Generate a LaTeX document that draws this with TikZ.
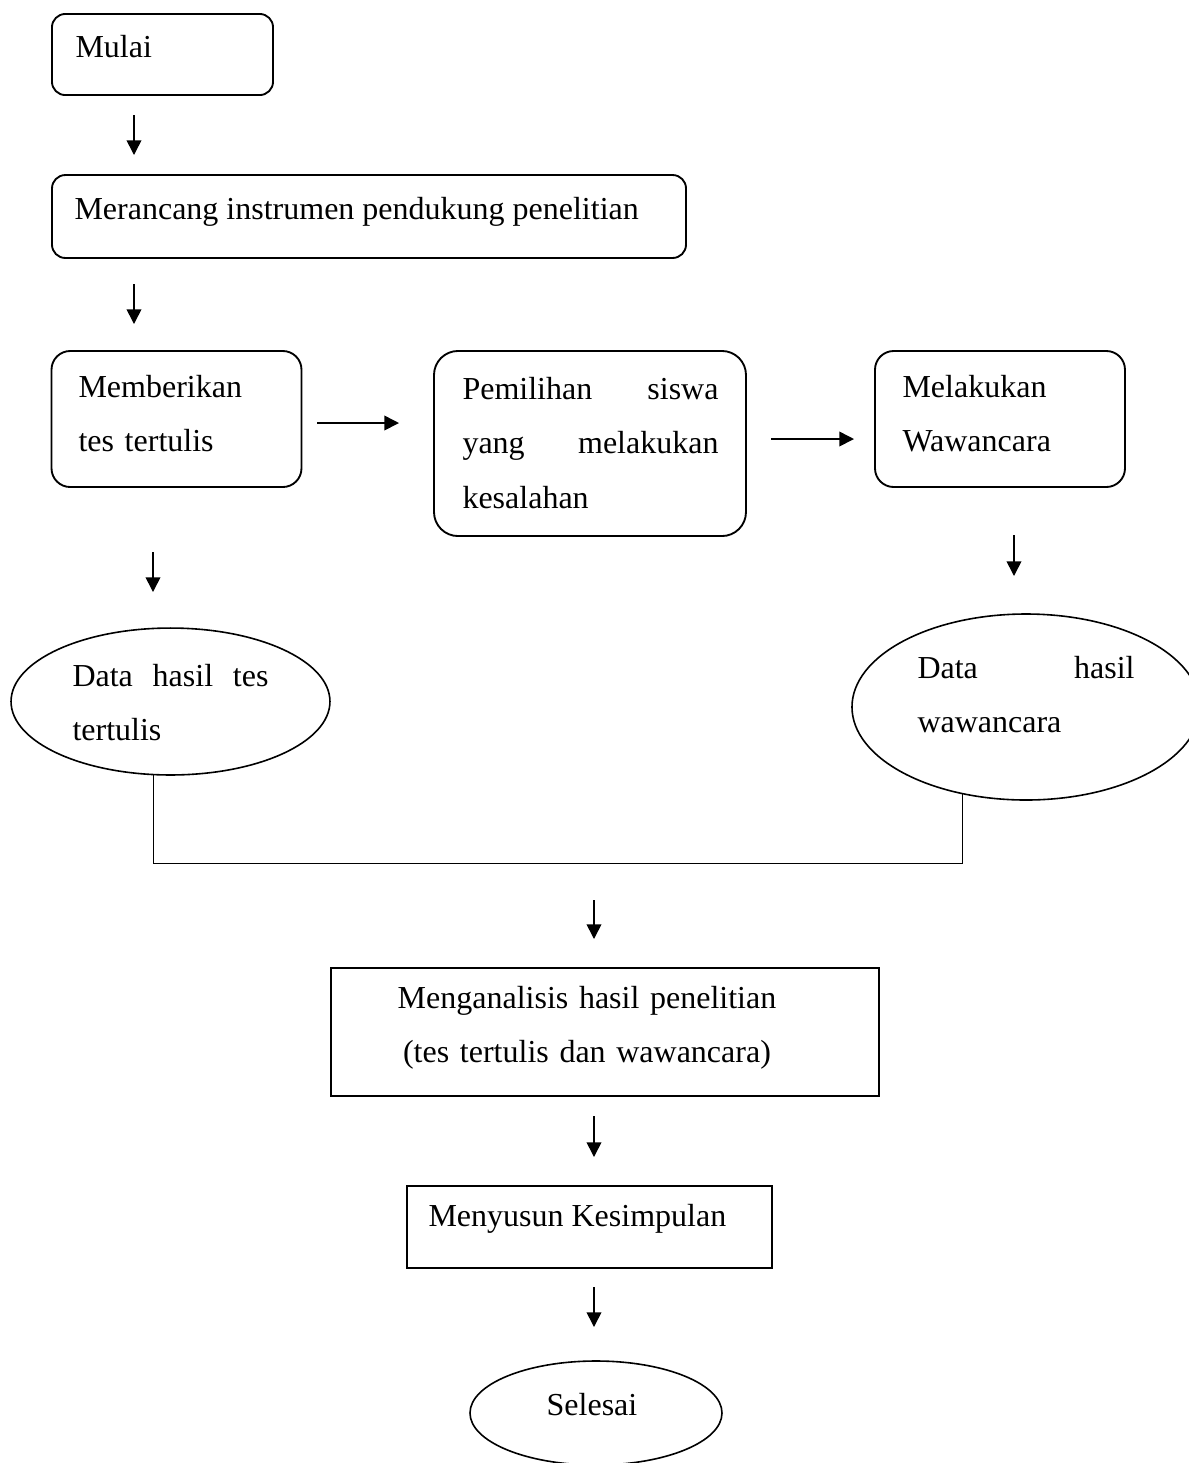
\documentclass[tikz,border=0pt]{standalone}
\usepackage{fontspec}
\setmainfont{Liberation Serif}
\usetikzlibrary{shapes.geometric,arrows.meta}

\begin{document}
\begin{tikzpicture}[x=0.375pt,y=-0.375pt,
    every node/.style={font=\fontsize{12}{20.5}\selectfont},
    box/.style={draw,line width=0.7pt,rounded corners=#1,inner sep=0pt},
    box/.default=5pt,
    sqbox/.style={draw,line width=0.7pt,inner sep=0pt},
    oval/.style={draw,ellipse,line width=0.6pt,inner sep=0pt},
    txt/.style={inner sep=0pt,anchor=base west},
    arr/.style={-{Triangle[length=5.5pt,width=5.5pt]},line width=0.6pt}]
    \useasboundingbox (0,0) rectangle (1188,1463);%
    % boxes and their texts
    \node[box,minimum width=82.9pt,minimum height=30.4pt] at (162.5,54.5) (mulai) {};%
    \node[txt] at (75,57) (mulaitxt) {Mulai};%
    \node[box,minimum width=237.75pt,minimum height=31.1pt] at (369,216.5) (rancang) {};%
    \node[txt] at (74,219) (rancangtxt) {Merancang instrumen pendukung penelitian};%
    \node[box=7pt,minimum width=93.75pt,minimum height=51pt] at (176.5,419) (tes) {};%
    \node[txt,text width=90pt,align=left] at (78,397) (testxt) {Memberikan\\tes tertulis};%
    \node[box=9pt,minimum width=117pt,minimum height=69.4pt] at (590,443.5) (pilih) {};%
    \node[txt,text width=96pt,align=left] at (462,399) (pilihtxt) {Pemilihan\hfill siswa\\yang\hfill melakukan\\kesalahan};%
    \node[box=7pt,minimum width=93.75pt,minimum height=51pt] at (1000,419) (wawancara) {};%
    \node[txt,text width=90pt,align=left] at (902,397) (wawancaratxt) {Melakukan\\Wawancara};%
    \node[oval,minimum width=119.6pt,minimum height=55.1pt] at (170.5,701.5) (datates) {};%
    \node[txt,text width=73.5pt,align=left] at (72,686) (datatestxt) {Data\hfill hasil\hfill tes\\tertulis};%
    \node[oval,minimum width=130.5pt,minimum height=69.75pt] at (1026,707) (datawaw) {};%
    \node[txt,text width=81.4pt,align=left] at (917,678) (datawawtxt) {Data\hfill hasil\\wawancara};%
    \node[sqbox,minimum width=205.5pt,minimum height=48pt] at (605,1032) (analisis) {};%
    \node[inner sep=0pt,anchor=base,text width=160pt,align=center] at (587,1008) (analisistxt) {Menganalisis hasil penelitian\\(tes tertulis dan wawancara)};%
    \node[sqbox,minimum width=136.9pt,minimum height=30.75pt] at (589.5,1227) (simpul) {};%
    \node[txt] at (428,1226) (simpultxt) {Menyusun Kesimpulan};%
    \node[oval,minimum width=94.5pt,minimum height=39pt] at (596,1413) (selesai) {};%
    \node[inner sep=0pt,anchor=base] at (592,1415) (selesaitxt) {Selesai};%
    % free standing arrows
    \foreach \n/\x/\ya/\yb in {1/134/115/155, 2/134/284/324, 3/153/552/592, 4/1014/535/576, 5/594/900/939, 6/594/1116/1157, 7/594/1287/1327} {%
      \coordinate (s\n) at (\x,\ya);%
      \coordinate (e\n) at (\x,\yb);%
      \draw[arr] (s\n) -- (e\n);%
    };%
    \coordinate (hs1) at (317,423);%
    \coordinate (he1) at (399,423);%
    \coordinate (hs2) at (771,439);%
    \coordinate (he2) at (854,439);%
    \draw[arr] (hs1) -- (he1);%
    \draw[arr] (hs2) -- (he2);%
    % joining line
    \draw[line width=0.5pt] (datates.-103) -- ++(0,88) -| (datawaw.-126);%
\end{tikzpicture}
\end{document}
